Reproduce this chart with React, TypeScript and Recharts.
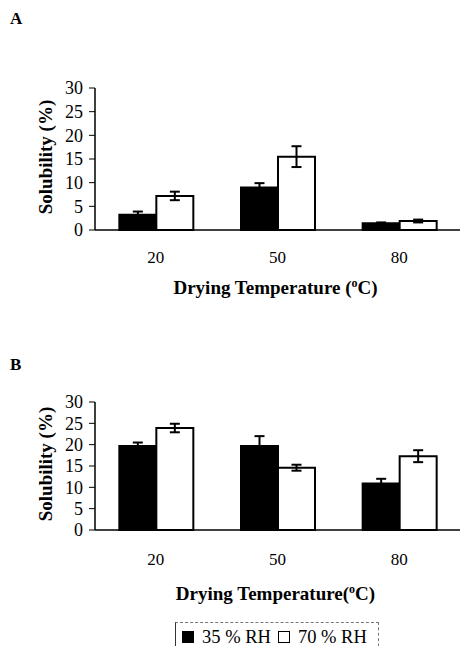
import React from "react";
import { Bar, BarChart, ErrorBar, XAxis, YAxis } from "recharts";

// Drying temperature categories (°C)
const temps = ["20", "50", "80"];

// Panel A
const aLow = [3.2, 9.0, 1.4];
const aLowErr = [0.7, 0.9, 0.2];
const aHigh = [7.2, 15.5, 1.9];
const aHighErr = [0.9, 2.2, 0.3];

// Panel B
const bLow = [19.7, 19.7, 10.9];
const bLowErr = [0.8, 2.3, 1.1];
const bHigh = [23.9, 14.6, 17.3];
const bHighErr = [1.0, 0.7, 1.4];

const yTicks = [0, 5, 10, 15, 20, 25, 30];
const series = [
  { key: "low", name: "35 % RH", fill: "#000" },
  { key: "high", name: "70 % RH", fill: "#fff" },
];

const SERIF = "'Liberation Serif', 'DejaVu Serif', serif";

const build = (low: number[], lowErr: number[], high: number[], highErr: number[]) =>
  temps.map((t, i) => ({ t, low: low[i], lowErr: lowErr[i], high: high[i], highErr: highErr[i] }));

const dataA = build(aLow, aLowErr, aHigh, aHighErr);
const dataB = build(bLow, bLowErr, bHigh, bHighErr);

function YTitle(props: any) {
  const { viewBox } = props;
  const cx = 45;
  const cy = viewBox.y + viewBox.height / 2 - 2;
  return (
    <text
      x={cx}
      y={cy}
      transform={`rotate(-90 ${cx} ${cy})`}
      textAnchor="middle"
      dominantBaseline="central"
      fontFamily={SERIF}
      fontWeight="bold"
      fontSize={19}
      fill="#000"
    >
      Solubility (%)
    </text>
  );
}

function makeXTitle(drop: number, space: boolean) {
  return (props: any) => {
    const { viewBox } = props;
    const cx = viewBox.x + viewBox.width / 2 - 2;
    const cy = viewBox.y + drop;
    return (
      <text x={cx} y={cy} textAnchor="middle" fontFamily={SERIF} fontWeight="bold" fontSize={19} fill="#000">
        <tspan>{space ? "Drying Temperature (" : "Drying Temperature("}</tspan>
        <tspan dy={-7} fontSize={12}>o</tspan>
        <tspan dy={7}>C)</tspan>
      </text>
    );
  };
}

function Panel({
  data,
  height,
  margin,
  tickMargin,
  titleDrop,
  space,
  topDash,
}: {
  data: any[];
  height: number;
  margin: { top: number; right: number; bottom: number; left: number };
  tickMargin: number;
  titleDrop: number;
  space: boolean;
  topDash: string;
}) {
  return (
    <BarChart width={461} height={height} data={data} margin={margin} barCategoryGap="20%" barGap={0}>
      <XAxis
        dataKey="t"
        height={80}
        tickLine={false}
        tickSize={0}
        tickMargin={tickMargin}
        axisLine={{ stroke: "#000", strokeWidth: 1.5 }}
        tick={{ fontFamily: SERIF, fontSize: 17, fill: "#000" }}
        label={{ content: makeXTitle(titleDrop, space) }}
      />
      <XAxis
        xAxisId="top"
        dataKey="t"
        orientation="top"
        height={0}
        tick={false}
        tickLine={false}
        axisLine={{ stroke: "#888", strokeDasharray: topDash }}
      />
      <YAxis
        domain={[0, 30]}
        ticks={yTicks}
        width={95}
        interval={0}
        tickSize={6}
        tickMargin={6}
        tickLine={{ stroke: "#000" }}
        axisLine={{ stroke: "#000", strokeWidth: 1.5 }}
        tick={{ fontFamily: SERIF, fontSize: 18, fill: "#000" }}
        label={{ content: YTitle }}
      />
      <YAxis
        yAxisId="right"
        orientation="right"
        domain={[0, 30]}
        width={0}
        tick={false}
        tickLine={false}
        axisLine={{ stroke: "#aaa", strokeDasharray: "1 3" }}
      />
      {series.map((s) => (
        <Bar
          key={s.key}
          dataKey={s.key}
          name={s.name}
          fill={s.fill}
          stroke="#000"
          strokeWidth={2}
          isAnimationActive={false}
        >
          <ErrorBar dataKey={`${s.key}Err`} width={5} stroke="#000" strokeWidth={2} />
        </Bar>
      ))}
    </BarChart>
  );
}

const label: React.CSSProperties = {
  position: "absolute",
  left: 10,
  fontFamily: SERIF,
  fontWeight: "bold",
  fontSize: 17,
  lineHeight: "17px",
};

export default function App() {
  return (
    <div style={{ position: "absolute", top: 0, left: 0, width: 461, height: 646, overflow: "hidden", background: "#fff" }}>
      <div style={{ ...label, top: 10 }}>A</div>
      <div style={{ position: "absolute", top: 0, left: 0 }}>
        <Panel
          data={dataA}
          height={320}
          margin={{ top: 88, right: 1, bottom: 10, left: 0 }}
          tickMargin={21}
          titleDrop={64}
          space={true}
          topDash="5 3"
        />
      </div>
      <div style={{ ...label, top: 356 }}>B</div>
      <div style={{ position: "absolute", top: 320, left: 0 }}>
        <Panel
          data={dataB}
          height={326}
          margin={{ top: 82, right: 1, bottom: 36, left: 0 }}
          tickMargin={23}
          titleDrop={70}
          space={false}
          topDash="1 14"
        />
      </div>
      <div
        style={{
          position: "absolute",
          top: 622,
          left: 175,
          width: 204,
          height: 30,
          border: "1px dashed #777",
          borderLeft: "1px solid #333",
          boxSizing: "border-box",
          display: "flex",
          alignItems: "flex-start",
          paddingTop: 4,
          paddingLeft: 6,
          fontFamily: SERIF,
          fontSize: 18.5,
          lineHeight: "20px",
          color: "#000",
        }}
      >
        {series.map((s) => (
          <span key={s.key} style={{ display: "flex", alignItems: "center", marginRight: 7 }}>
            <span
              style={{
                display: "inline-block",
                width: 12,
                height: 12,
                background: s.fill,
                border: "1.5px solid #000",
                boxSizing: "border-box",
                marginRight: 8,
              }}
            />
            {s.name}
          </span>
        ))}
      </div>
    </div>
  );
}
